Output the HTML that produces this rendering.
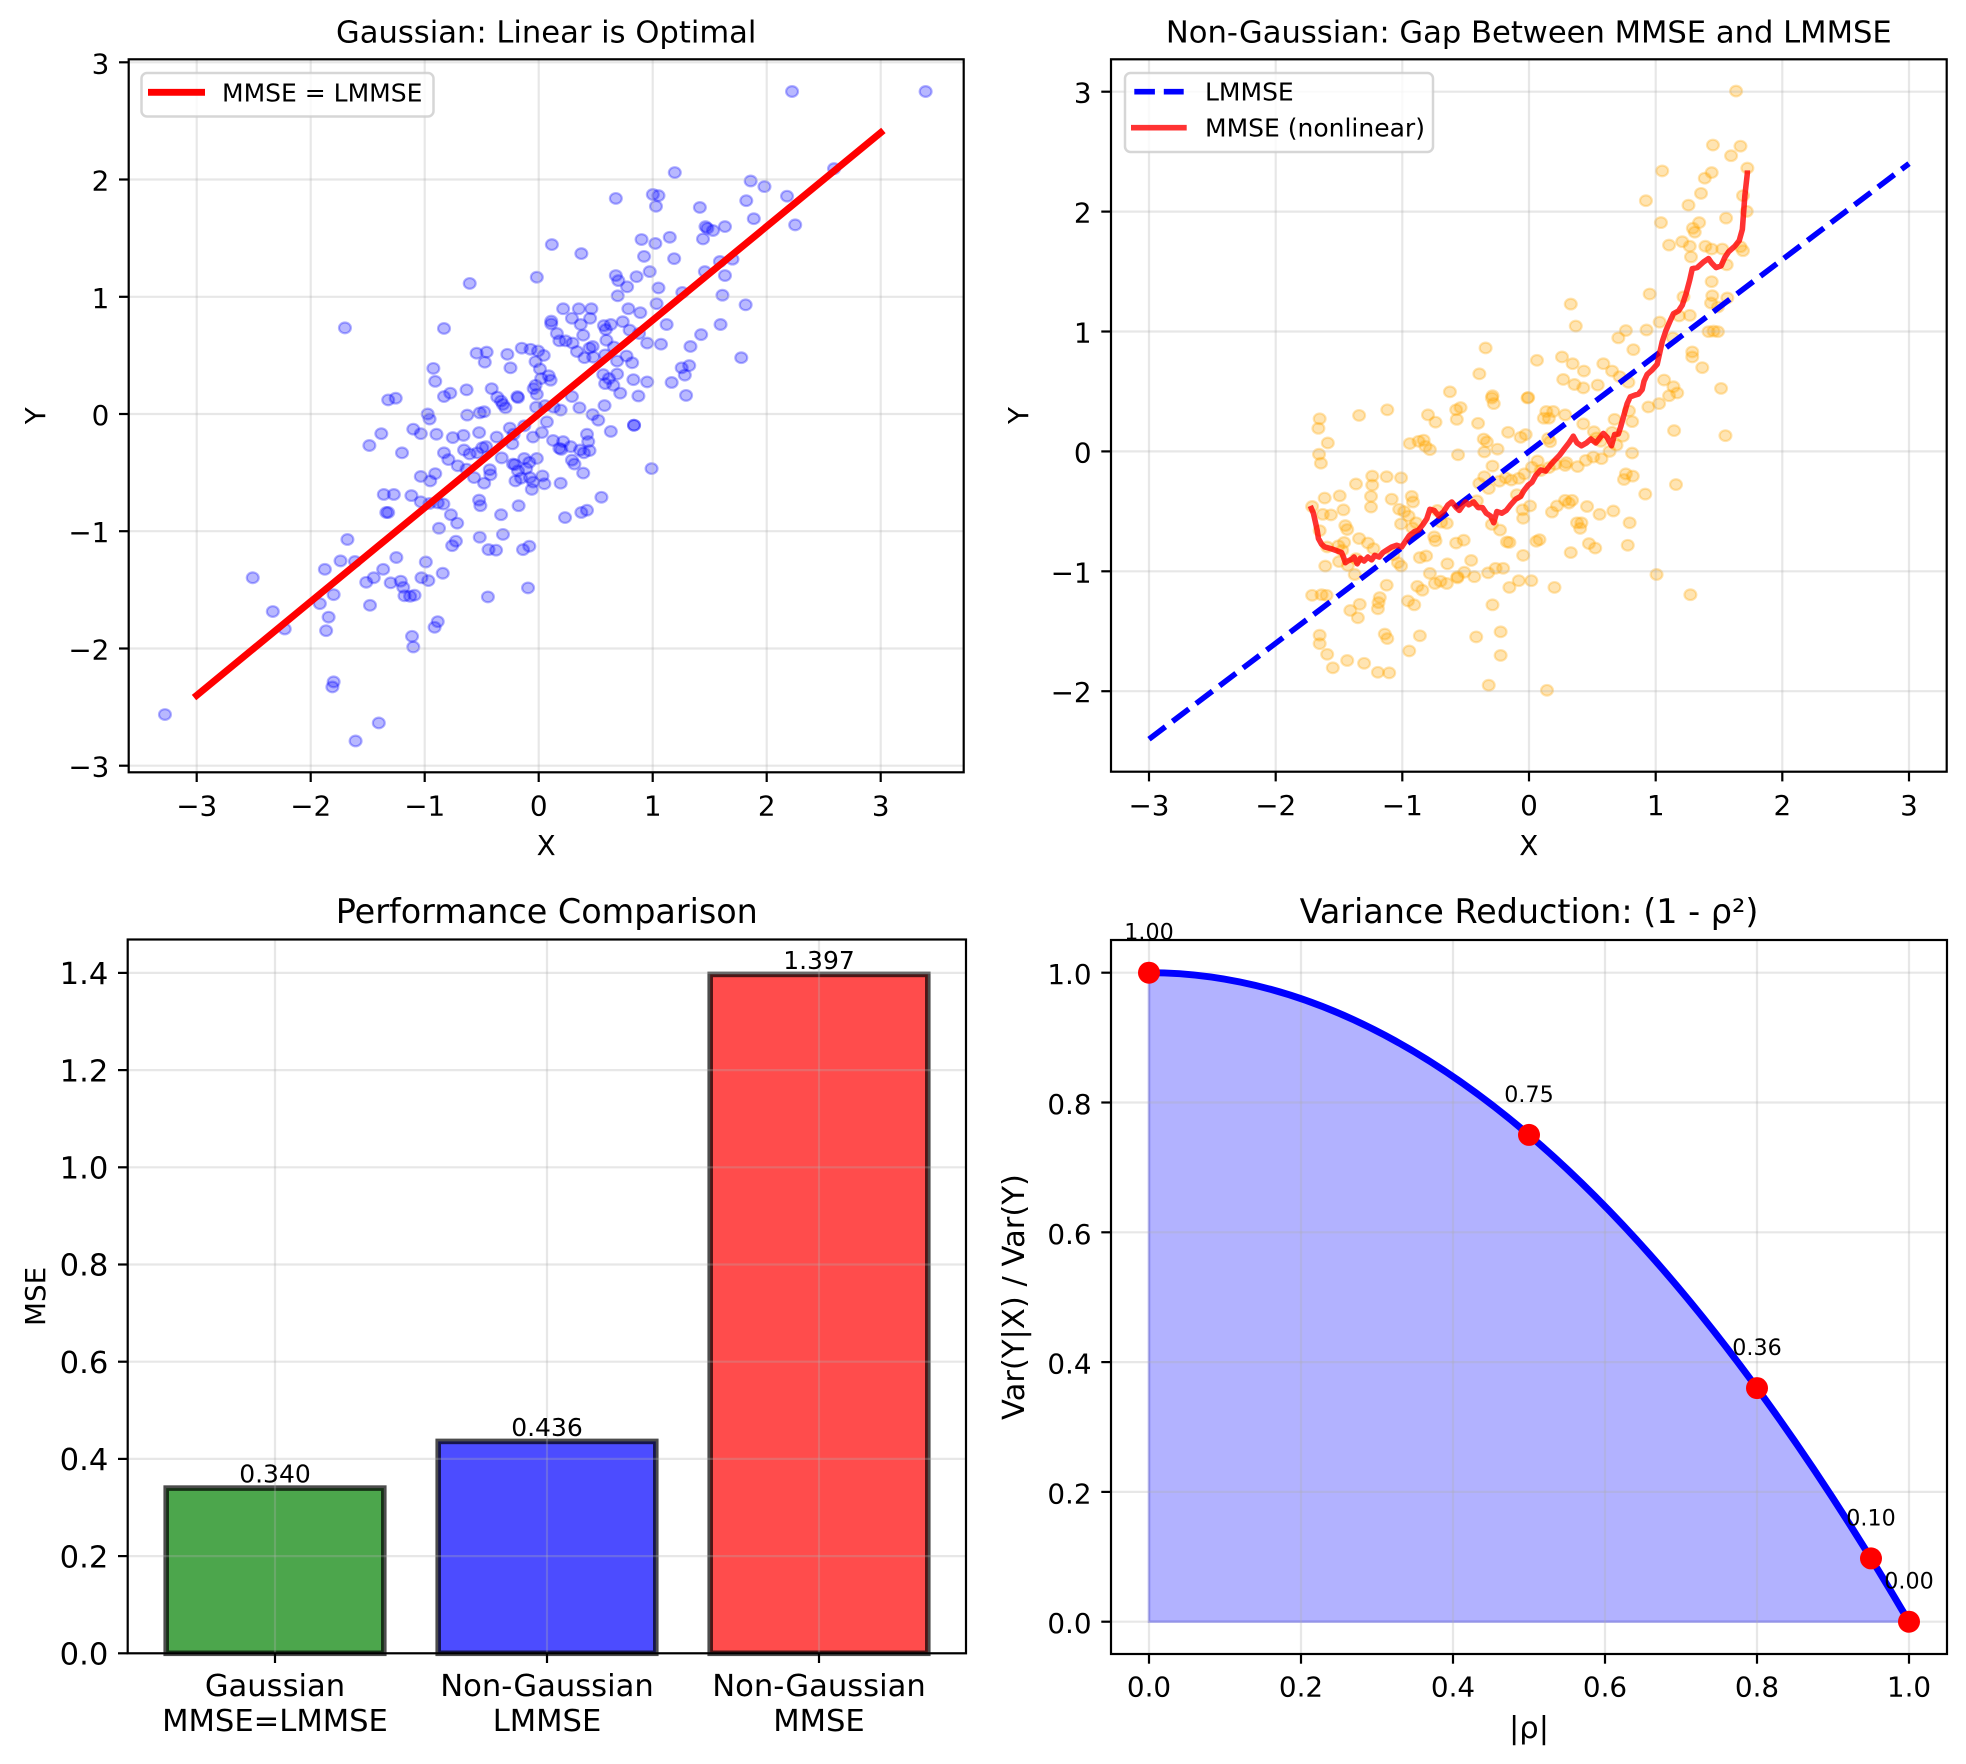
<!DOCTYPE html>
<html><head><meta charset="utf-8">
<style>
html,body{margin:0;padding:0;background:#fff;}
svg{display:block;font-family:"DejaVu Sans","Liberation Sans",sans-serif;}
.b circle{fill:rgba(0,0,255,0.28);stroke:rgba(0,0,255,0.3);stroke-width:2.2;vector-effect:non-scaling-stroke;}
.o circle{fill:rgba(255,165,0,0.3);stroke:rgba(255,165,0,0.3);stroke-width:2.2;vector-effect:non-scaling-stroke;}
.g line{stroke:#b0b0b0;stroke-opacity:0.3;stroke-width:2.2;}
.t line{stroke:#000;stroke-width:2.2;}
.sp{fill:none;stroke:#000;stroke-width:2.2;}
.ty{font-size:27.8px;fill:#000;text-anchor:end;}
.tx{font-size:27.8px;fill:#000;text-anchor:middle;}
.ty11{font-size:30.6px;fill:#000;text-anchor:end;}
.tx11{font-size:30.6px;fill:#000;text-anchor:middle;}
.tt{font-size:30.6px;fill:#000;text-anchor:middle;}
.tb{font-size:33.4px;fill:#000;text-anchor:middle;}
.ann{font-size:22.2px;fill:#000;text-anchor:middle;}
.ann9{font-size:25px;fill:#000;text-anchor:middle;}
.lg{font-size:25px;fill:#000;}
</style></head>
<body>
<svg width="1966" height="1764" viewBox="0 0 1966 1764" xmlns="http://www.w3.org/2000/svg">
<rect width="1966" height="1764" fill="#fff"/>

<!-- ============ TOP-LEFT ============ -->
<g class="b" transform="matrix(0.6271,0,0,0.5628,-0.6,-0.8)">
<circle cx="1264" cy="164" r="9.5"/><circle cx="1477" cy="164" r="9.5"/><circle cx="1331" cy="301" r="9.5"/><circle cx="1077" cy="308" r="9.5"/><circle cx="1198" cy="323" r="9.5"/><circle cx="1220" cy="333" r="9.5"/><circle cx="1256" cy="350" r="9.5"/><circle cx="1191" cy="358" r="9.5"/><circle cx="983" cy="354" r="9.5"/><circle cx="1042" cy="347" r="9.5"/><circle cx="1051" cy="349" r="9.5"/><circle cx="1047" cy="368" r="9.5"/><circle cx="1117" cy="370" r="9.5"/><circle cx="1203" cy="390" r="9.5"/><circle cx="1126" cy="404" r="9.5"/><circle cx="1129" cy="407" r="9.5"/><circle cx="1157" cy="404" r="9.5"/><circle cx="1138" cy="411" r="9.5"/><circle cx="1269" cy="401" r="9.5"/><circle cx="1024" cy="427" r="9.5"/><circle cx="1069" cy="423" r="9.5"/><circle cx="1122" cy="426" r="9.5"/><circle cx="1046" cy="434" r="9.5"/><circle cx="881" cy="436" r="9.5"/><circle cx="928" cy="452" r="9.5"/><circle cx="1028" cy="457" r="9.5"/><circle cx="1076" cy="461" r="9.5"/><circle cx="1149" cy="466" r="9.5"/><circle cx="1169" cy="462" r="9.5"/><circle cx="1037" cy="484" r="9.5"/><circle cx="1157" cy="491" r="9.5"/><circle cx="983" cy="491" r="9.5"/><circle cx="1016" cy="493" r="9.5"/><circle cx="987" cy="500" r="9.5"/><circle cx="1125" cy="484" r="9.5"/><circle cx="857" cy="494" r="9.5"/><circle cx="750" cy="505" r="9.5"/><circle cx="1001" cy="511" r="9.5"/><circle cx="1051" cy="513" r="9.5"/><circle cx="1153" cy="526" r="9.5"/><circle cx="1089" cy="521" r="9.5"/><circle cx="1048" cy="541" r="9.5"/><circle cx="986" cy="527" r="9.5"/><circle cx="1190" cy="543" r="9.5"/><circle cx="924" cy="550" r="9.5"/><circle cx="899" cy="550" r="9.5"/><circle cx="944" cy="550" r="9.5"/><circle cx="1003" cy="550" r="9.5"/><circle cx="1022" cy="557" r="9.5"/><circle cx="880" cy="572" r="9.5"/><circle cx="913" cy="567" r="9.5"/><circle cx="942" cy="567" r="9.5"/><circle cx="964" cy="580" r="9.5"/><circle cx="975" cy="578" r="9.5"/><circle cx="994" cy="573" r="9.5"/><circle cx="1064" cy="578" r="9.5"/><circle cx="1150" cy="578" r="9.5"/><circle cx="551" cy="584" r="9.5"/><circle cx="709" cy="585" r="9.5"/><circle cx="880" cy="577" r="9.5"/><circle cx="927" cy="578" r="9.5"/><circle cx="967" cy="587" r="9.5"/><circle cx="1005" cy="588" r="9.5"/><circle cx="1020" cy="594" r="9.5"/><circle cx="1055" cy="613" r="9.5"/><circle cx="1033" cy="611" r="9.5"/><circle cx="1119" cy="596" r="9.5"/><circle cx="1183" cy="637" r="9.5"/><circle cx="889" cy="594" r="9.5"/><circle cx="903" cy="607" r="9.5"/><circle cx="914" cy="611" r="9.5"/><circle cx="931" cy="597" r="9.5"/><circle cx="946" cy="617" r="9.5"/><circle cx="1102" cy="617" r="9.5"/><circle cx="761" cy="629" r="9.5"/><circle cx="777" cy="627" r="9.5"/><circle cx="833" cy="620" r="9.5"/><circle cx="847" cy="622" r="9.5"/><circle cx="810" cy="631" r="9.5"/><circle cx="815" cy="655" r="9.5"/><circle cx="859" cy="625" r="9.5"/><circle cx="868" cy="633" r="9.5"/><circle cx="893" cy="607" r="9.5"/><circle cx="921" cy="626" r="9.5"/><circle cx="933" cy="637" r="9.5"/><circle cx="980" cy="618" r="9.5"/><circle cx="1000" cy="634" r="9.5"/><circle cx="968" cy="606" r="9.5"/><circle cx="774" cy="645" r="9.5"/><circle cx="855" cy="644" r="9.5"/><circle cx="862" cy="657" r="9.5"/><circle cx="876" cy="669" r="9.5"/><circle cx="879" cy="677" r="9.5"/><circle cx="941" cy="620" r="9.5"/><circle cx="947" cy="636" r="9.5"/><circle cx="966" cy="632" r="9.5"/><circle cx="985" cy="643" r="9.5"/><circle cx="1009" cy="646" r="9.5"/><circle cx="692" cy="656" r="9.5"/><circle cx="695" cy="679" r="9.5"/><circle cx="719" cy="700" r="9.5"/><circle cx="709" cy="706" r="9.5"/><circle cx="745" cy="694" r="9.5"/><circle cx="785" cy="692" r="9.5"/><circle cx="826" cy="706" r="9.5"/><circle cx="852" cy="692" r="9.5"/><circle cx="864" cy="674" r="9.5"/><circle cx="963" cy="667" r="9.5"/><circle cx="972" cy="674" r="9.5"/><circle cx="985" cy="666" r="9.5"/><circle cx="1011" cy="676" r="9.5"/><circle cx="1033" cy="680" r="9.5"/><circle cx="1072" cy="681" r="9.5"/><circle cx="1088" cy="655" r="9.5"/><circle cx="1093" cy="668" r="9.5"/><circle cx="1100" cy="651" r="9.5"/><circle cx="1095" cy="704" r="9.5"/><circle cx="1019" cy="705" r="9.5"/><circle cx="990" cy="700" r="9.5"/><circle cx="979" cy="686" r="9.5"/><circle cx="966" cy="683" r="9.5"/><circle cx="620" cy="712" r="9.5"/><circle cx="632" cy="709" r="9.5"/><circle cx="683" cy="737" r="9.5"/><circle cx="686" cy="746" r="9.5"/><circle cx="746" cy="739" r="9.5"/><circle cx="766" cy="735" r="9.5"/><circle cx="773" cy="733" r="9.5"/><circle cx="794" cy="707" r="9.5"/><circle cx="800" cy="714" r="9.5"/><circle cx="803" cy="720" r="9.5"/><circle cx="807" cy="726" r="9.5"/><circle cx="827" cy="708" r="9.5"/><circle cx="855" cy="686" r="9.5"/><circle cx="857" cy="702" r="9.5"/><circle cx="856" cy="725" r="9.5"/><circle cx="870" cy="722" r="9.5"/><circle cx="884" cy="725" r="9.5"/><circle cx="895" cy="730" r="9.5"/><circle cx="913" cy="706" r="9.5"/><circle cx="925" cy="726" r="9.5"/><circle cx="946" cy="738" r="9.5"/><circle cx="955" cy="748" r="9.5"/><circle cx="965" cy="722" r="9.5"/><circle cx="975" cy="768" r="9.5"/><circle cx="1012" cy="757" r="9.5"/><circle cx="609" cy="772" r="9.5"/><circle cx="590" cy="793" r="9.5"/><circle cx="642" cy="806" r="9.5"/><circle cx="660" cy="764" r="9.5"/><circle cx="672" cy="772" r="9.5"/><circle cx="697" cy="773" r="9.5"/><circle cx="723" cy="779" r="9.5"/><circle cx="740" cy="775" r="9.5"/><circle cx="765" cy="770" r="9.5"/><circle cx="793" cy="778" r="9.5"/><circle cx="814" cy="762" r="9.5"/><circle cx="820" cy="773" r="9.5"/><circle cx="818" cy="790" r="9.5"/><circle cx="837" cy="758" r="9.5"/><circle cx="851" cy="778" r="9.5"/><circle cx="865" cy="770" r="9.5"/><circle cx="873" cy="751" r="9.5"/><circle cx="883" cy="784" r="9.5"/><circle cx="893" cy="798" r="9.5"/><circle cx="899" cy="786" r="9.5"/><circle cx="911" cy="795" r="9.5"/><circle cx="913" cy="819" r="9.5"/><circle cx="917" cy="826" r="9.5"/><circle cx="926" cy="801" r="9.5"/><circle cx="932" cy="806" r="9.5"/><circle cx="937" cy="773" r="9.5"/><circle cx="941" cy="802" r="9.5"/><circle cx="939" cy="786" r="9.5"/><circle cx="931" cy="842" r="9.5"/><circle cx="709" cy="806" r="9.5"/><circle cx="716" cy="818" r="9.5"/><circle cx="741" cy="801" r="9.5"/><circle cx="750" cy="808" r="9.5"/><circle cx="762" cy="806" r="9.5"/><circle cx="770" cy="797" r="9.5"/><circle cx="776" cy="795" r="9.5"/><circle cx="782" cy="836" r="9.5"/><circle cx="783" cy="845" r="9.5"/><circle cx="801" cy="815" r="9.5"/><circle cx="819" cy="826" r="9.5"/><circle cx="822" cy="827" r="9.5"/><circle cx="827" cy="838" r="9.5"/><circle cx="823" cy="856" r="9.5"/><circle cx="832" cy="851" r="9.5"/><circle cx="846" cy="850" r="9.5"/><circle cx="851" cy="858" r="9.5"/><circle cx="866" cy="847" r="9.5"/><circle cx="849" cy="871" r="9.5"/><circle cx="845" cy="823" r="9.5"/><circle cx="857" cy="816" r="9.5"/><circle cx="837" cy="816" r="9.5"/><circle cx="840" cy="834" r="9.5"/><circle cx="895" cy="860" r="9.5"/><circle cx="672" cy="848" r="9.5"/><circle cx="687" cy="856" r="9.5"/><circle cx="695" cy="843" r="9.5"/><circle cx="745" cy="835" r="9.5"/><circle cx="757" cy="850" r="9.5"/><circle cx="773" cy="860" r="9.5"/><circle cx="613" cy="880" r="9.5"/><circle cx="629" cy="880" r="9.5"/><circle cx="617" cy="912" r="9.5"/><circle cx="620" cy="912" r="9.5"/><circle cx="657" cy="882" r="9.5"/><circle cx="672" cy="893" r="9.5"/><circle cx="686" cy="896" r="9.5"/><circle cx="699" cy="895" r="9.5"/><circle cx="701" cy="940" r="9.5"/><circle cx="720" cy="916" r="9.5"/><circle cx="730" cy="931" r="9.5"/><circle cx="765" cy="890" r="9.5"/><circle cx="767" cy="900" r="9.5"/><circle cx="800" cy="916" r="9.5"/><circle cx="828" cy="900" r="9.5"/><circle cx="612" cy="1013" r="9.5"/><circle cx="640" cy="1034" r="9.5"/><circle cx="644" cy="1045" r="9.5"/><circle cx="633" cy="992" r="9.5"/><circle cx="624" cy="1037" r="9.5"/><circle cx="646" cy="1060" r="9.5"/><circle cx="673" cy="1028" r="9.5"/><circle cx="684" cy="1033" r="9.5"/><circle cx="680" cy="1000" r="9.5"/><circle cx="662" cy="1059" r="9.5"/><circle cx="655" cy="1061" r="9.5"/><circle cx="707" cy="1020" r="9.5"/><circle cx="722" cy="971" r="9.5"/><circle cx="728" cy="963" r="9.5"/><circle cx="766" cy="956" r="9.5"/><circle cx="780" cy="978" r="9.5"/><circle cx="792" cy="979" r="9.5"/><circle cx="803" cy="951" r="9.5"/><circle cx="835" cy="978" r="9.5"/><circle cx="845" cy="972" r="9.5"/><circle cx="843" cy="1046" r="9.5"/><circle cx="779" cy="1062" r="9.5"/><circle cx="555" cy="960" r="9.5"/><circle cx="544" cy="998" r="9.5"/><circle cx="567" cy="999" r="9.5"/><circle cx="519" cy="1013" r="9.5"/><circle cx="533" cy="1058" r="9.5"/><circle cx="511" cy="1074" r="9.5"/><circle cx="525" cy="1098" r="9.5"/><circle cx="521" cy="1122" r="9.5"/><circle cx="585" cy="1036" r="9.5"/><circle cx="597" cy="1028" r="9.5"/><circle cx="591" cy="1077" r="9.5"/><circle cx="404" cy="1028" r="9.5"/><circle cx="436" cy="1088" r="9.5"/><circle cx="455" cy="1119" r="9.5"/><circle cx="658" cy="1132" r="9.5"/><circle cx="660" cy="1151" r="9.5"/><circle cx="699" cy="1106" r="9.5"/><circle cx="694" cy="1116" r="9.5"/><circle cx="533" cy="1213" r="9.5"/><circle cx="531" cy="1222" r="9.5"/><circle cx="264" cy="1271" r="9.5"/><circle cx="605" cy="1286" r="9.5"/><circle cx="568" cy="1318" r="9.5"/><circle cx="902" cy="921" r="9.5"/><circle cx="928" cy="912" r="9.5"/><circle cx="937" cy="908" r="9.5"/><circle cx="960" cy="885" r="9.5"/><circle cx="1040" cy="834" r="9.5"/><circle cx="1012" cy="757" r="9.5"/><circle cx="869" cy="861" r="9.5"/><circle cx="896" cy="800" r="9.5"/><circle cx="731" cy="829" r="9.5"/><circle cx="708" cy="897" r="9.5"/>
</g>
<g class="g">
<line x1="196.7" y1="59.3" x2="196.7" y2="772.3"/><line x1="310.7" y1="59.3" x2="310.7" y2="772.3"/><line x1="424.7" y1="59.3" x2="424.7" y2="772.3"/><line x1="538.7" y1="59.3" x2="538.7" y2="772.3"/><line x1="652.7" y1="59.3" x2="652.7" y2="772.3"/><line x1="766.7" y1="59.3" x2="766.7" y2="772.3"/><line x1="880.7" y1="59.3" x2="880.7" y2="772.3"/>
<line x1="128.7" y1="62.3" x2="963.7" y2="62.3"/><line x1="128.7" y1="179.5" x2="963.7" y2="179.5"/><line x1="128.7" y1="296.8" x2="963.7" y2="296.8"/><line x1="128.7" y1="414" x2="963.7" y2="414"/><line x1="128.7" y1="531.2" x2="963.7" y2="531.2"/><line x1="128.7" y1="648.5" x2="963.7" y2="648.5"/><line x1="128.7" y1="765.7" x2="963.7" y2="765.7"/>
</g>
<line x1="196.7" y1="695.4" x2="880.7" y2="132.6" stroke="#ff0000" stroke-width="6.95" stroke-linecap="square"/>
<rect x="128.7" y="59.3" width="835" height="713" class="sp"/>
<g class="t">
<line x1="196.7" y1="772.3" x2="196.7" y2="782"/><line x1="310.7" y1="772.3" x2="310.7" y2="782"/><line x1="424.7" y1="772.3" x2="424.7" y2="782"/><line x1="538.7" y1="772.3" x2="538.7" y2="782"/><line x1="652.7" y1="772.3" x2="652.7" y2="782"/><line x1="766.7" y1="772.3" x2="766.7" y2="782"/><line x1="880.7" y1="772.3" x2="880.7" y2="782"/>
<line x1="119" y1="62.3" x2="128.7" y2="62.3"/><line x1="119" y1="179.5" x2="128.7" y2="179.5"/><line x1="119" y1="296.8" x2="128.7" y2="296.8"/><line x1="119" y1="414" x2="128.7" y2="414"/><line x1="119" y1="531.2" x2="128.7" y2="531.2"/><line x1="119" y1="648.5" x2="128.7" y2="648.5"/><line x1="119" y1="765.7" x2="128.7" y2="765.7"/>
</g>
<g class="tx">
<text x="196.7" y="815.7">−3</text><text x="310.7" y="815.7">−2</text><text x="424.7" y="815.7">−1</text><text x="538.7" y="815.7">0</text><text x="652.7" y="815.7">1</text><text x="766.7" y="815.7">2</text><text x="880.7" y="815.7">3</text>
</g>
<g class="ty">
<text x="109.3" y="73.3">3</text><text x="109.3" y="190.5">2</text><text x="109.3" y="307.8">1</text><text x="109.3" y="425">0</text><text x="109.3" y="542.2">−1</text><text x="109.3" y="659.5">−2</text><text x="109.3" y="776.7">−3</text>
</g>
<text class="tt" x="546.2" y="42.7">Gaussian: Linear is Optimal</text>
<text class="tx" x="546.2" y="855">X</text>
<text class="tx" transform="translate(45,415.8) rotate(-90)" x="0" y="0">Y</text>
<rect x="141.5" y="73" width="292" height="43.5" rx="5.5" fill="rgba(255,255,255,0.8)" stroke="#cccccc" stroke-opacity="0.8" stroke-width="2.5"/>
<line x1="148" y1="92.3" x2="205" y2="92.3" stroke="#ff0000" stroke-width="6.95"/>
<text class="lg" x="222" y="101.3">MMSE = LMMSE</text>

<!-- ============ TOP-RIGHT ============ -->
<g class="o" transform="matrix(0.6262,0,0,0.5621,983.4,-1.1)">
<circle cx="1202" cy="164" r="9.5"/><circle cx="1165" cy="260" r="9.5"/><circle cx="1209" cy="262" r="9.5"/><circle cx="1194" cy="279" r="9.5"/><circle cx="1084" cy="306" r="9.5"/><circle cx="1220" cy="301" r="9.5"/><circle cx="1152" cy="319" r="9.5"/><circle cx="1163" cy="309" r="9.5"/><circle cx="1058" cy="359" r="9.5"/><circle cx="1126" cy="367" r="9.5"/><circle cx="1146" cy="346" r="9.5"/><circle cx="1082" cy="398" r="9.5"/><circle cx="1143" cy="398" r="9.5"/><circle cx="1133" cy="408" r="9.5"/><circle cx="1136" cy="415" r="9.5"/><circle cx="1186" cy="390" r="9.5"/><circle cx="1213" cy="350" r="9.5"/><circle cx="1219" cy="378" r="9.5"/><circle cx="1095" cy="438" r="9.5"/><circle cx="1116" cy="432" r="9.5"/><circle cx="1128" cy="440" r="9.5"/><circle cx="1153" cy="440" r="9.5"/><circle cx="1163" cy="445" r="9.5"/><circle cx="1180" cy="445" r="9.5"/><circle cx="1130" cy="459" r="9.5"/><circle cx="1209" cy="441" r="9.5"/><circle cx="1213" cy="448" r="9.5"/><circle cx="1187" cy="473" r="9.5"/><circle cx="1163" cy="503" r="9.5"/><circle cx="1064" cy="525" r="9.5"/><circle cx="1118" cy="530" r="9.5"/><circle cx="1164" cy="528" r="9.5"/><circle cx="1188" cy="532" r="9.5"/><circle cx="1162" cy="541" r="9.5"/><circle cx="1173" cy="548" r="9.5"/><circle cx="1128" cy="563" r="9.5"/><circle cx="1111" cy="564" r="9.5"/><circle cx="1158" cy="592" r="9.5"/><circle cx="1166" cy="591" r="9.5"/><circle cx="1173" cy="592" r="9.5"/><circle cx="1101" cy="603" r="9.5"/><circle cx="1080" cy="575" r="9.5"/><circle cx="1059" cy="589" r="9.5"/><circle cx="1026" cy="590" r="9.5"/><circle cx="1014" cy="603" r="9.5"/><circle cx="1038" cy="624" r="9.5"/><circle cx="1132" cy="628" r="9.5"/><circle cx="1132" cy="637" r="9.5"/><circle cx="1148" cy="656" r="9.5"/><circle cx="1087" cy="678" r="9.5"/><circle cx="1102" cy="690" r="9.5"/><circle cx="1108" cy="701" r="9.5"/><circle cx="1095" cy="706" r="9.5"/><circle cx="1079" cy="720" r="9.5"/><circle cx="1062" cy="726" r="9.5"/><circle cx="1178" cy="693" r="9.5"/><circle cx="1185" cy="777" r="9.5"/><circle cx="1103" cy="768" r="9.5"/><circle cx="1106" cy="864" r="9.5"/><circle cx="1075" cy="1024" r="9.5"/><circle cx="938" cy="543" r="9.5"/><circle cx="946" cy="582" r="9.5"/><circle cx="802" cy="621" r="9.5"/><circle cx="884" cy="643" r="9.5"/><circle cx="924" cy="637" r="9.5"/><circle cx="941" cy="649" r="9.5"/><circle cx="959" cy="662" r="9.5"/><circle cx="990" cy="649" r="9.5"/><circle cx="1004" cy="662" r="9.5"/><circle cx="1016" cy="672" r="9.5"/><circle cx="792" cy="667" r="9.5"/><circle cx="926" cy="677" r="9.5"/><circle cx="944" cy="686" r="9.5"/><circle cx="958" cy="692" r="9.5"/><circle cx="981" cy="687" r="9.5"/><circle cx="1030" cy="682" r="9.5"/><circle cx="745" cy="699" r="9.5"/><circle cx="813" cy="706" r="9.5"/><circle cx="815" cy="720" r="9.5"/><circle cx="869" cy="710" r="9.5"/><circle cx="899" cy="734" r="9.5"/><circle cx="910" cy="734" r="9.5"/><circle cx="903" cy="746" r="9.5"/><circle cx="929" cy="740" r="9.5"/><circle cx="958" cy="756" r="9.5"/><circle cx="975" cy="770" r="9.5"/><circle cx="979" cy="781" r="9.5"/><circle cx="1008" cy="748" r="9.5"/><circle cx="1031" cy="733" r="9.5"/><circle cx="1036" cy="752" r="9.5"/><circle cx="1021" cy="778" r="9.5"/><circle cx="1004" cy="771" r="9.5"/><circle cx="986" cy="787" r="9.5"/><circle cx="1011" cy="794" r="9.5"/><circle cx="1036" cy="808" r="9.5"/><circle cx="1000" cy="805" r="9.5"/><circle cx="987" cy="818" r="9.5"/><circle cx="962" cy="821" r="9.5"/><circle cx="974" cy="815" r="9.5"/><circle cx="1026" cy="845" r="9.5"/><circle cx="1037" cy="849" r="9.5"/><circle cx="1057" cy="881" r="9.5"/><circle cx="1023" cy="855" r="9.5"/><circle cx="1032" cy="932" r="9.5"/><circle cx="1029" cy="972" r="9.5"/><circle cx="1006" cy="911" r="9.5"/><circle cx="984" cy="917" r="9.5"/><circle cx="948" cy="932" r="9.5"/><circle cx="935" cy="897" r="9.5"/><circle cx="940" cy="892" r="9.5"/><circle cx="929" cy="892" r="9.5"/><circle cx="916" cy="902" r="9.5"/><circle cx="908" cy="913" r="9.5"/><circle cx="967" cy="969" r="9.5"/><circle cx="977" cy="977" r="9.5"/><circle cx="964" cy="903" r="9.5"/><circle cx="953" cy="942" r="9.5"/><circle cx="938" cy="985" r="9.5"/><circle cx="955" cy="932" r="9.5"/><circle cx="912" cy="1047" r="9.5"/><circle cx="888" cy="962" r="9.5"/><circle cx="883" cy="965" r="9.5"/><circle cx="875" cy="1035" r="9.5"/><circle cx="855" cy="1035" r="9.5"/><circle cx="862" cy="990" r="9.5"/><circle cx="840" cy="1047" r="9.5"/><circle cx="836" cy="966" r="9.5"/><circle cx="830" cy="1013" r="9.5"/><circle cx="818" cy="1013" r="9.5"/><circle cx="826" cy="1126" r="9.5"/><circle cx="826" cy="1168" r="9.5"/><circle cx="813" cy="1078" r="9.5"/><circle cx="807" cy="1221" r="9.5"/><circle cx="900" cy="1230" r="9.5"/><circle cx="787" cy="1135" r="9.5"/><circle cx="806" cy="1021" r="9.5"/><circle cx="784" cy="1028" r="9.5"/><circle cx="768" cy="1020" r="9.5"/><circle cx="757" cy="1028" r="9.5"/><circle cx="767" cy="963" r="9.5"/><circle cx="741" cy="1005" r="9.5"/><circle cx="730" cy="1036" r="9.5"/><circle cx="707" cy="991" r="9.5"/><circle cx="713" cy="1022" r="9.5"/><circle cx="722" cy="964" r="9.5"/><circle cx="697" cy="994" r="9.5"/><circle cx="701" cy="1052" r="9.5"/><circle cx="688" cy="1078" r="9.5"/><circle cx="678" cy="1071" r="9.5"/><circle cx="680" cy="1160" r="9.5"/><circle cx="697" cy="1133" r="9.5"/><circle cx="667" cy="1009" r="9.5"/><circle cx="644" cy="1043" r="9.5"/><circle cx="645" cy="1138" r="9.5"/><circle cx="641" cy="1130" r="9.5"/><circle cx="648" cy="1199" r="9.5"/><circle cx="630" cy="1198" r="9.5"/><circle cx="631" cy="1074" r="9.5"/><circle cx="630" cy="1085" r="9.5"/><circle cx="633" cy="1065" r="9.5"/><circle cx="601" cy="1077" r="9.5"/><circle cx="598" cy="1101" r="9.5"/><circle cx="586" cy="1088" r="9.5"/><circle cx="581" cy="1177" r="9.5"/><circle cx="608" cy="1182" r="9.5"/><circle cx="558" cy="1190" r="9.5"/><circle cx="549" cy="1166" r="9.5"/><circle cx="537" cy="1147" r="9.5"/><circle cx="537" cy="1132" r="9.5"/><circle cx="525" cy="1061" r="9.5"/><circle cx="540" cy="1060" r="9.5"/><circle cx="548" cy="1061" r="9.5"/><circle cx="546" cy="1009" r="9.5"/><circle cx="568" cy="1001" r="9.5"/><circle cx="573" cy="981" r="9.5"/><circle cx="582" cy="1008" r="9.5"/><circle cx="593" cy="1024" r="9.5"/><circle cx="549" cy="975" r="9.5"/><circle cx="537" cy="946" r="9.5"/><circle cx="542" cy="917" r="9.5"/><circle cx="525" cy="903" r="9.5"/><circle cx="545" cy="888" r="9.5"/><circle cx="569" cy="884" r="9.5"/><circle cx="575" cy="909" r="9.5"/><circle cx="578" cy="937" r="9.5"/><circle cx="581" cy="944" r="9.5"/><circle cx="555" cy="918" r="9.5"/><circle cx="567" cy="973" r="9.5"/><circle cx="537" cy="747" r="9.5"/><circle cx="535" cy="764" r="9.5"/><circle cx="536" cy="810" r="9.5"/><circle cx="539" cy="826" r="9.5"/><circle cx="550" cy="790" r="9.5"/><circle cx="600" cy="741" r="9.5"/><circle cx="645" cy="731" r="9.5"/><circle cx="667" cy="852" r="9.5"/><circle cx="644" cy="850" r="9.5"/><circle cx="621" cy="849" r="9.5"/><circle cx="621" cy="865" r="9.5"/><circle cx="619" cy="885" r="9.5"/><circle cx="619" cy="904" r="9.5"/><circle cx="595" cy="863" r="9.5"/><circle cx="652" cy="890" r="9.5"/><circle cx="664" cy="908" r="9.5"/><circle cx="667" cy="934" r="9.5"/><circle cx="672" cy="912" r="9.5"/><circle cx="679" cy="920" r="9.5"/><circle cx="685" cy="941" r="9.5"/><circle cx="691" cy="932" r="9.5"/><circle cx="686" cy="895" r="9.5"/><circle cx="684" cy="885" r="9.5"/><circle cx="681" cy="791" r="9.5"/><circle cx="695" cy="787" r="9.5"/><circle cx="703" cy="785" r="9.5"/><circle cx="706" cy="796" r="9.5"/><circle cx="713" cy="802" r="9.5"/><circle cx="710" cy="740" r="9.5"/><circle cx="722" cy="753" r="9.5"/><circle cx="755" cy="731" r="9.5"/><circle cx="762" cy="727" r="9.5"/><circle cx="756" cy="748" r="9.5"/><circle cx="758" cy="811" r="9.5"/><circle cx="790" cy="755" r="9.5"/><circle cx="799" cy="783" r="9.5"/><circle cx="800" cy="806" r="9.5"/><circle cx="804" cy="788" r="9.5"/><circle cx="821" cy="801" r="9.5"/><circle cx="812" cy="710" r="9.5"/><circle cx="838" cy="771" r="9.5"/><circle cx="858" cy="780" r="9.5"/><circle cx="870" cy="709" r="9.5"/><circle cx="866" cy="775" r="9.5"/><circle cx="895" cy="746" r="9.5"/><circle cx="902" cy="782" r="9.5"/><circle cx="885" cy="822" r="9.5"/><circle cx="890" cy="839" r="9.5"/><circle cx="903" cy="834" r="9.5"/><circle cx="913" cy="828" r="9.5"/><circle cx="929" cy="830" r="9.5"/><circle cx="949" cy="832" r="9.5"/><circle cx="931" cy="825" r="9.5"/><circle cx="905" cy="788" r="9.5"/><circle cx="876" cy="833" r="9.5"/><circle cx="864" cy="845" r="9.5"/><circle cx="855" cy="853" r="9.5"/><circle cx="843" cy="856" r="9.5"/><circle cx="852" cy="882" r="9.5"/><circle cx="861" cy="909" r="9.5"/><circle cx="873" cy="902" r="9.5"/><circle cx="862" cy="924" r="9.5"/><circle cx="834" cy="852" r="9.5"/><circle cx="824" cy="858" r="9.5"/><circle cx="807" cy="871" r="9.5"/><circle cx="813" cy="831" r="9.5"/><circle cx="800" cy="850" r="9.5"/><circle cx="792" cy="862" r="9.5"/><circle cx="788" cy="893" r="9.5"/><circle cx="812" cy="935" r="9.5"/><circle cx="825" cy="945" r="9.5"/><circle cx="840" cy="967" r="9.5"/><circle cx="725" cy="910" r="9.5"/><circle cx="731" cy="931" r="9.5"/><circle cx="740" cy="933" r="9.5"/><circle cx="720" cy="957" r="9.5"/><circle cx="755" cy="968" r="9.5"/><circle cx="779" cy="999" r="9.5"/><circle cx="721" cy="1040" r="9.5"/><circle cx="740" cy="1040" r="9.5"/><circle cx="757" cy="1030" r="9.5"/><circle cx="662" cy="1003" r="9.5"/><circle cx="655" cy="989" r="9.5"/><circle cx="623" cy="978" r="9.5"/><circle cx="614" cy="968" r="9.5"/><circle cx="595" cy="996" r="9.5"/><circle cx="576" cy="967" r="9.5"/><circle cx="600" cy="960" r="9.5"/><circle cx="693" cy="1045" r="9.5"/><circle cx="1129" cy="1060" r="9.5"/>
</g>
<g class="g">
<line x1="1149" y1="59.3" x2="1149" y2="771.7"/><line x1="1275.7" y1="59.3" x2="1275.7" y2="771.7"/><line x1="1402.3" y1="59.3" x2="1402.3" y2="771.7"/><line x1="1529" y1="59.3" x2="1529" y2="771.7"/><line x1="1655.7" y1="59.3" x2="1655.7" y2="771.7"/><line x1="1782.3" y1="59.3" x2="1782.3" y2="771.7"/><line x1="1909" y1="59.3" x2="1909" y2="771.7"/>
<line x1="1111" y1="91.7" x2="1946.7" y2="91.7"/><line x1="1111" y1="211.6" x2="1946.7" y2="211.6"/><line x1="1111" y1="331.5" x2="1946.7" y2="331.5"/><line x1="1111" y1="451.4" x2="1946.7" y2="451.4"/><line x1="1111" y1="571.3" x2="1946.7" y2="571.3"/><line x1="1111" y1="691.2" x2="1946.7" y2="691.2"/>
</g>
<line x1="1149" y1="739.2" x2="1909" y2="163.6" stroke="#0000ff" stroke-width="5.56" stroke-dasharray="20.6 8.9"/>
<g transform="matrix(0.6262,0,0,0.5621,983.4,-1.1)">
<polyline fill="none" stroke="#ff0000" stroke-opacity="0.8" stroke-width="5.56" stroke-linejoin="round" style="vector-effect:non-scaling-stroke" points="522,902 527,915 530,930 533,945 535,960 540,970 545,975 555,978 565,982 572,985 575,993 578,1003 582,1000 588,997 592,993 597,1005 602,995 608,1000 614,993 620,998 625,990 632,993 638,985 645,980 652,975 660,972 668,975 674,965 680,955 688,948 695,945 702,935 708,925 713,908 720,910 727,920 735,912 742,900 748,895 755,905 760,910 765,902 770,895 775,900 783,895 790,905 797,905 803,915 810,920 815,932 820,912 828,915 835,910 842,900 850,890 858,885 863,875 870,865 876,860 882,848 890,838 898,840 905,830 913,820 920,812 928,800 935,790 942,778 948,790 955,795 963,790 970,783 978,790 985,780 990,773 996,780 1003,795 1008,775 1014,774 1018,760 1023,740 1028,720 1033,708 1040,705 1046,703 1052,695 1055,680 1060,668 1068,660 1076,650 1080,630 1084,610 1090,590 1097,572 1102,560 1110,555 1116,545 1122,525 1128,500 1132,480 1140,478 1150,468 1158,462 1163,470 1170,478 1178,475 1184,460 1190,450 1200,440 1207,430 1212,410 1214,380 1216,350 1220,310 1220,305"/>
</g>
<rect x="1111" y="59.3" width="835.7" height="712.4" class="sp"/>
<g class="t">
<line x1="1149" y1="771.7" x2="1149" y2="781.4"/><line x1="1275.7" y1="771.7" x2="1275.7" y2="781.4"/><line x1="1402.3" y1="771.7" x2="1402.3" y2="781.4"/><line x1="1529" y1="771.7" x2="1529" y2="781.4"/><line x1="1655.7" y1="771.7" x2="1655.7" y2="781.4"/><line x1="1782.3" y1="771.7" x2="1782.3" y2="781.4"/><line x1="1909" y1="771.7" x2="1909" y2="781.4"/>
<line x1="1101.3" y1="91.7" x2="1111" y2="91.7"/><line x1="1101.3" y1="211.6" x2="1111" y2="211.6"/><line x1="1101.3" y1="331.5" x2="1111" y2="331.5"/><line x1="1101.3" y1="451.4" x2="1111" y2="451.4"/><line x1="1101.3" y1="571.3" x2="1111" y2="571.3"/><line x1="1101.3" y1="691.2" x2="1111" y2="691.2"/>
</g>
<g class="tx">
<text x="1149" y="815">−3</text><text x="1275.7" y="815">−2</text><text x="1402.3" y="815">−1</text><text x="1529" y="815">0</text><text x="1655.7" y="815">1</text><text x="1782.3" y="815">2</text><text x="1909" y="815">3</text>
</g>
<g class="ty">
<text x="1091.6" y="102.7">3</text><text x="1091.6" y="222.6">2</text><text x="1091.6" y="342.5">1</text><text x="1091.6" y="462.4">0</text><text x="1091.6" y="582.3">−1</text><text x="1091.6" y="702.2">−2</text>
</g>
<text class="tt" x="1528.8" y="42.7">Non-Gaussian: Gap Between MMSE and LMMSE</text>
<text class="tx" x="1528.8" y="855">X</text>
<text class="tx" transform="translate(1028,415.5) rotate(-90)" x="0" y="0">Y</text>
<rect x="1125" y="73" width="308" height="79" rx="5.5" fill="rgba(255,255,255,0.8)" stroke="#cccccc" stroke-opacity="0.8" stroke-width="2.5"/>
<line x1="1134.3" y1="91.7" x2="1183.7" y2="91.7" stroke="#0000ff" stroke-width="5.56" stroke-dasharray="20.6 8.9"/>
<line x1="1131" y1="127.7" x2="1186.7" y2="127.7" stroke="#ff0000" stroke-opacity="0.8" stroke-width="5.56"/>
<text class="lg" x="1205" y="100.7">LMMSE</text>
<text class="lg" x="1205" y="136.7">MMSE (nonlinear)</text>

<!-- ============ BOTTOM-LEFT (bars) ============ -->
<rect x="166.2" y="1488.1" width="217.6" height="165.2" fill="rgba(0,128,0,0.7)" stroke="rgba(0,0,0,0.7)" stroke-width="5.56"/>
<rect x="438.2" y="1441.4" width="217.6" height="211.9" fill="rgba(0,0,255,0.7)" stroke="rgba(0,0,0,0.7)" stroke-width="5.56"/>
<rect x="710.2" y="974.4" width="217.6" height="678.9" fill="rgba(255,0,0,0.7)" stroke="rgba(0,0,0,0.7)" stroke-width="5.56"/>
<g class="g">
<line x1="275" y1="939.5" x2="275" y2="1653.3"/><line x1="547" y1="939.5" x2="547" y2="1653.3"/><line x1="819" y1="939.5" x2="819" y2="1653.3"/>
<line x1="127.7" y1="1653.3" x2="966" y2="1653.3"/><line x1="127.7" y1="1556.1" x2="966" y2="1556.1"/><line x1="127.7" y1="1458.9" x2="966" y2="1458.9"/><line x1="127.7" y1="1361.7" x2="966" y2="1361.7"/><line x1="127.7" y1="1264.5" x2="966" y2="1264.5"/><line x1="127.7" y1="1167.3" x2="966" y2="1167.3"/><line x1="127.7" y1="1070.1" x2="966" y2="1070.1"/><line x1="127.7" y1="972.9" x2="966" y2="972.9"/>
</g>
<g class="ann9">
<text x="275" y="1482.5">0.340</text><text x="547" y="1435.8">0.436</text><text x="819" y="968.8">1.397</text>
</g>
<rect x="127.7" y="939.5" width="838.3" height="713.8" class="sp"/>
<g class="t">
<line x1="275" y1="1653.3" x2="275" y2="1663"/><line x1="547" y1="1653.3" x2="547" y2="1663"/><line x1="819" y1="1653.3" x2="819" y2="1663"/>
<line x1="118" y1="1653.3" x2="127.7" y2="1653.3"/><line x1="118" y1="1556.1" x2="127.7" y2="1556.1"/><line x1="118" y1="1458.9" x2="127.7" y2="1458.9"/><line x1="118" y1="1361.7" x2="127.7" y2="1361.7"/><line x1="118" y1="1264.5" x2="127.7" y2="1264.5"/><line x1="118" y1="1167.3" x2="127.7" y2="1167.3"/><line x1="118" y1="1070.1" x2="127.7" y2="1070.1"/><line x1="118" y1="972.9" x2="127.7" y2="972.9"/>
</g>
<g class="ty11">
<text x="108.3" y="1664.5">0.0</text><text x="108.3" y="1567.3">0.2</text><text x="108.3" y="1470.1">0.4</text><text x="108.3" y="1372.9">0.6</text><text x="108.3" y="1275.7">0.8</text><text x="108.3" y="1178.5">1.0</text><text x="108.3" y="1081.3">1.2</text><text x="108.3" y="984.1">1.4</text>
</g>
<g class="tx11">
<text x="275" y="1696">Gaussian</text><text x="275" y="1731">MMSE=LMMSE</text>
<text x="547" y="1696">Non-Gaussian</text><text x="547" y="1731">LMMSE</text>
<text x="819" y="1696">Non-Gaussian</text><text x="819" y="1731">MMSE</text>
</g>
<text class="tb" x="546.8" y="923">Performance Comparison</text>
<text class="tx" transform="translate(45,1296.4) rotate(-90)" x="0" y="0">MSE</text>

<!-- ============ BOTTOM-RIGHT ============ -->
<path d="M1149,1621.7 L1149,972.7 Q1529,972.7 1909,1621.7 Z" fill="rgba(0,0,255,0.3)" stroke="rgba(0,0,255,0.3)" stroke-width="2.5"/>
<g class="g">
<line x1="1149" y1="940" x2="1149" y2="1654"/><line x1="1301" y1="940" x2="1301" y2="1654"/><line x1="1453" y1="940" x2="1453" y2="1654"/><line x1="1605" y1="940" x2="1605" y2="1654"/><line x1="1757" y1="940" x2="1757" y2="1654"/><line x1="1909" y1="940" x2="1909" y2="1654"/>
<line x1="1111" y1="1621.7" x2="1947" y2="1621.7"/><line x1="1111" y1="1491.9" x2="1947" y2="1491.9"/><line x1="1111" y1="1362.1" x2="1947" y2="1362.1"/><line x1="1111" y1="1232.3" x2="1947" y2="1232.3"/><line x1="1111" y1="1102.5" x2="1947" y2="1102.5"/><line x1="1111" y1="972.7" x2="1947" y2="972.7"/>
</g>
<path d="M1149,972.7 Q1529,972.7 1909,1621.7" fill="none" stroke="#0000ff" stroke-width="6.95"/>
<g fill="#ff0000">
<circle cx="1149" cy="972.7" r="11"/><circle cx="1529" cy="1134.9" r="11"/><circle cx="1757" cy="1388.1" r="11"/><circle cx="1871" cy="1558.4" r="11"/><circle cx="1909" cy="1621.7" r="11"/>
</g>
<g class="ann">
<text x="1149" y="939.7">1.00</text><text x="1529" y="1101.9">0.75</text><text x="1757" y="1355.1">0.36</text><text x="1871" y="1525.4">0.10</text><text x="1909" y="1588.7">0.00</text>
</g>
<rect x="1111" y="940" width="836" height="714" class="sp"/>
<g class="t">
<line x1="1149" y1="1654" x2="1149" y2="1663.7"/><line x1="1301" y1="1654" x2="1301" y2="1663.7"/><line x1="1453" y1="1654" x2="1453" y2="1663.7"/><line x1="1605" y1="1654" x2="1605" y2="1663.7"/><line x1="1757" y1="1654" x2="1757" y2="1663.7"/><line x1="1909" y1="1654" x2="1909" y2="1663.7"/>
<line x1="1101.3" y1="1621.7" x2="1111" y2="1621.7"/><line x1="1101.3" y1="1491.9" x2="1111" y2="1491.9"/><line x1="1101.3" y1="1362.1" x2="1111" y2="1362.1"/><line x1="1101.3" y1="1232.3" x2="1111" y2="1232.3"/><line x1="1101.3" y1="1102.5" x2="1111" y2="1102.5"/><line x1="1101.3" y1="972.7" x2="1111" y2="972.7"/>
</g>
<g class="tx">
<text x="1149" y="1696.7">0.0</text><text x="1301" y="1696.7">0.2</text><text x="1453" y="1696.7">0.4</text><text x="1605" y="1696.7">0.6</text><text x="1757" y="1696.7">0.8</text><text x="1909" y="1696.7">1.0</text>
</g>
<g class="ty">
<text x="1091.6" y="1633.2">0.0</text><text x="1091.6" y="1503.4">0.2</text><text x="1091.6" y="1373.6">0.4</text><text x="1091.6" y="1243.8">0.6</text><text x="1091.6" y="1114">0.8</text><text x="1091.6" y="984.2">1.0</text>
</g>
<text class="tb" x="1529" y="923">Variance Reduction: (1 - ρ²)</text>
<text class="tx11" x="1529" y="1738">|ρ|</text>
<text class="tx11" transform="translate(1024,1297) rotate(-90)" x="0" y="0">Var(Y|X) / Var(Y)</text>
</svg>
</body></html>
